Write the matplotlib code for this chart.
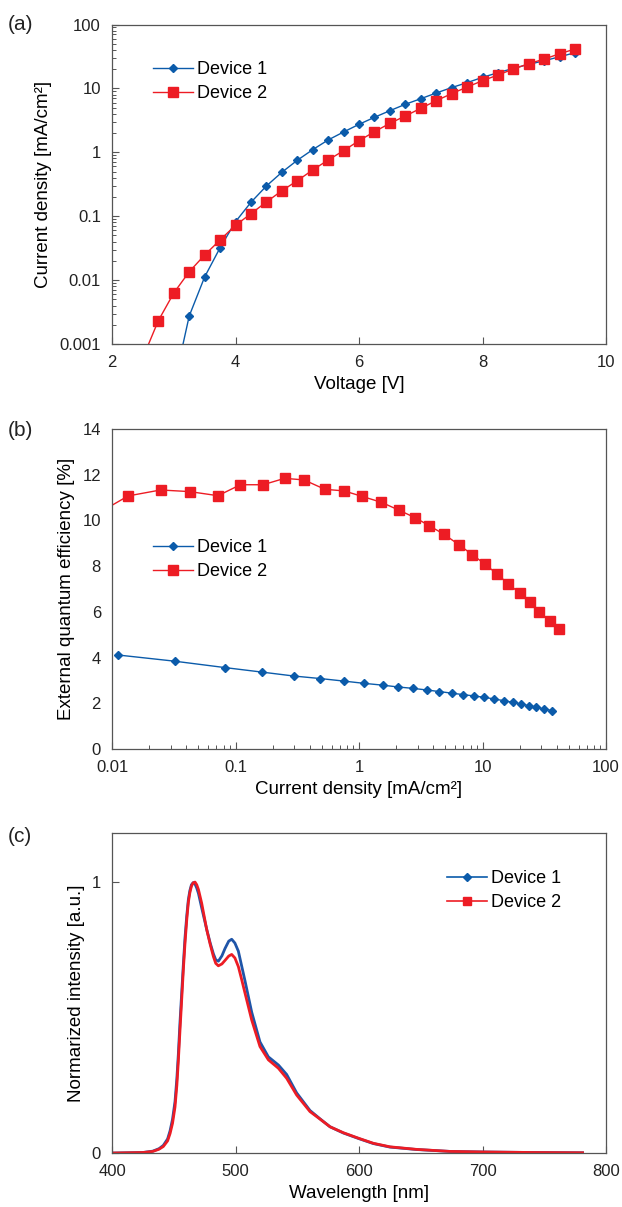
"""Three-panel OLED device comparison: J-V, EQE-J and EL spectra."""
import matplotlib
matplotlib.use("Agg")
import matplotlib.pyplot as plt
from matplotlib.lines import Line2D
from matplotlib.ticker import LogLocator, FuncFormatter, NullLocator, FixedLocator

plt.rcParams["font.family"] = ["Liberation Sans", "DejaVu Sans"]

BLUE = "#0B5BAA"
RED = "#ED1C24"
SPINE = "#555555"

# (a) current density vs voltage
volt1 = [3.0, 3.25, 3.5, 3.75, 4.0, 4.25, 4.5, 4.75, 5.0, 5.25, 5.5, 5.75, 6.0, 6.25,
         6.5, 6.75, 7.0, 7.25, 7.5, 7.75, 8.0, 8.25, 8.5, 8.75, 9.0, 9.25, 9.5]
j1 = [0.00022, 0.00274, 0.0112, 0.0321, 0.082, 0.165, 0.297, 0.486, 0.75, 1.10, 1.56,
      2.08, 2.74, 3.53, 4.48, 5.64, 6.90, 8.47, 10.3, 12.3, 14.9, 17.6, 20.6, 23.8,
      27.1, 31.3, 36.2]
volt2 = [2.5, 2.75, 3.0, 3.25, 3.5, 3.75, 4.0, 4.25, 4.5, 4.75, 5.0, 5.25, 5.5, 5.75,
         6.0, 6.25, 6.5, 6.75, 7.0, 7.25, 7.5, 7.75, 8.0, 8.25, 8.5, 8.75, 9.0, 9.25, 9.5]
j2 = [0.00061, 0.00232, 0.00628, 0.0135, 0.0247, 0.0425, 0.0721, 0.1095, 0.167, 0.250,
      0.359, 0.529, 0.757, 1.06, 1.52, 2.10, 2.84, 3.70, 4.88, 6.42, 8.27, 10.5, 13.2,
      16.2, 20.1, 24.4, 28.8, 34.9, 41.4]

# (b) EQE vs current density (same operating points, from 3.5 V / 3.0 V upward)
eqe1 = [4.11, 3.84, 3.56, 3.36, 3.19, 3.08, 2.97, 2.87, 2.79, 2.71, 2.65, 2.58, 2.51,
        2.44, 2.38, 2.32, 2.26, 2.19, 2.11, 2.04, 1.97, 1.89, 1.82, 1.76, 1.68]
eqe2 = [10.03, 11.07, 11.33, 11.26, 11.08, 11.56, 11.56, 11.84, 11.77, 11.36, 11.29,
        11.05, 10.79, 10.45, 10.12, 9.77, 9.39, 8.94, 8.50, 8.08, 7.64, 7.22, 6.81,
        6.42, 6.01, 5.61, 5.24]
j_eqe1 = j1[2:]
j_eqe2 = j2[2:]

# (c) normalized EL spectra
wl = [400, 425, 433, 438, 441.5, 445, 447, 449, 451, 452.5, 453.7, 455, 456.4, 457.8,
      459.1, 460.5, 461.8, 463, 464.3, 465.7, 467.2, 468.6, 470, 472.6, 476.7, 479.5,
      482.1, 484, 486.1, 489, 491.5, 494.5, 496.9, 499.5, 502.3, 505, 507.7, 513.1,
      519.8, 526.6, 534.7, 541.4, 549.5, 560.3, 568.5, 576.5, 587.3, 600, 611.6, 625,
      646.6, 673.6, 700, 741, 781]
el1 = [0, 0.002, 0.007, 0.016, 0.028, 0.052, 0.082, 0.125, 0.19, 0.275, 0.365, 0.48,
       0.59, 0.70, 0.795, 0.875, 0.935, 0.968, 0.99, 0.998, 0.993, 0.978, 0.958, 0.905,
       0.825, 0.775, 0.735, 0.713, 0.708, 0.728, 0.755, 0.782, 0.789, 0.775, 0.745,
       0.69, 0.635, 0.52, 0.41, 0.355, 0.325, 0.29, 0.222, 0.157, 0.126, 0.097, 0.074,
       0.053, 0.035, 0.022, 0.013, 0.006, 0.004, 0.002, 0.001]
el2 = [0, 0.002, 0.006, 0.014, 0.024, 0.045, 0.072, 0.11, 0.17, 0.25, 0.34, 0.45,
       0.565, 0.68, 0.775, 0.86, 0.925, 0.96, 0.985, 0.997, 1.0, 0.99, 0.972, 0.922,
       0.824, 0.77, 0.725, 0.70, 0.691, 0.698, 0.711, 0.727, 0.733, 0.72, 0.688, 0.64,
       0.59, 0.491, 0.393, 0.344, 0.313, 0.276, 0.214, 0.153, 0.125, 0.097, 0.075,
       0.054, 0.036, 0.023, 0.0135, 0.006, 0.004, 0.002, 0.001]

labels = ["Device 1", "Device 2"]


def style_axes(ax):
    for s in ax.spines.values():
        s.set_color(SPINE)
        s.set_linewidth(0.9)
    ax.tick_params(which="both", direction="in", color=SPINE, labelsize=12,
                   labelcolor="#222222", top=False, right=False, pad=8)
    ax.tick_params(which="major", length=5, width=0.8)
    ax.tick_params(which="minor", length=3, width=0.7)


def add_legend(ax, x, y, handles):
    ax.legend(handles=handles, labels=labels, loc="upper left", bbox_to_anchor=(x, y),
              frameon=False, fontsize=13, borderpad=0, borderaxespad=0,
              handlelength=2.2, handletextpad=0.25, labelspacing=0.4)


fmt = FuncFormatter(lambda v, p: f"{v:g}")

fig = plt.figure(figsize=(6.22, 12.07), dpi=100)
ax_a = fig.add_axes([0.1801, 0.7150, 0.7942, 0.2647])
ax_b = fig.add_axes([0.1801, 0.3795, 0.7942, 0.2651])
ax_c = fig.add_axes([0.1801, 0.0447, 0.7942, 0.2649])

# --- (a) ---
ax_a.plot(volt1, j1, color=BLUE, lw=1.0, marker="D", ms=4.2, label=labels[0])
ax_a.plot(volt2, j2, color=RED, lw=1.0, marker="s", ms=6.8, label=labels[1])
ax_a.set_yscale("log")
ax_a.set_xlim(2, 10)
ax_a.set_ylim(0.001, 100)
ax_a.set_xticks([2, 4, 6, 8, 10])
ax_a.xaxis.set_minor_locator(NullLocator())
ax_a.yaxis.set_major_locator(LogLocator(base=10))
ax_a.yaxis.set_minor_locator(LogLocator(base=10, subs=range(2, 10)))
ax_a.yaxis.set_major_formatter(fmt)
ax_a.set_xlabel("Voltage [V]", fontsize=13.5, labelpad=4)
ax_a.set_ylabel("Current density [mA/cm²]", fontsize=13.5, labelpad=5)
style_axes(ax_a)
add_legend(ax_a, 0.083, 0.886, ax_a.get_lines())

# --- (b) ---
ax_b.plot(j_eqe1, eqe1, color=BLUE, lw=1.0, marker="D", ms=4.2)
ax_b.plot(j_eqe2, eqe2, color=RED, lw=1.0, marker="s", ms=6.8)
ax_b.set_xscale("log")
ax_b.set_xlim(0.01, 100)
ax_b.set_ylim(0, 14)
ax_b.set_yticks(range(0, 15, 2))
ax_b.xaxis.set_major_locator(LogLocator(base=10))
ax_b.xaxis.set_minor_locator(LogLocator(base=10, subs=range(2, 10)))
ax_b.xaxis.set_major_formatter(fmt)
ax_b.set_xlabel("Current density [mA/cm²]", fontsize=13.5, labelpad=4)
ax_b.set_ylabel("External quantum efficiency [%]", fontsize=13.5, labelpad=5)
style_axes(ax_b)
ax_b.tick_params(axis="y", which="both", length=0)
add_legend(ax_b, 0.083, 0.656, ax_b.get_lines())

# --- (c) ---
ax_c.plot(wl, el1, color="#1F55A8", lw=2.0)
ax_c.plot(wl, el2, color=RED, lw=2.0)
ax_c.set_xlim(400, 800)
ax_c.set_ylim(0, 1.18)
ax_c.set_xticks([400, 500, 600, 700, 800])
ax_c.yaxis.set_major_locator(FixedLocator([0, 1]))
ax_c.set_xlabel("Wavelength [nm]", fontsize=13.5, labelpad=4)
ax_c.set_ylabel("Normarized intensity [a.u.]", fontsize=13.5, labelpad=5)
style_axes(ax_c)
proxies = [Line2D([], [], color=BLUE, lw=1.2, marker="D", ms=3.6),
           Line2D([], [], color=RED, lw=1.2, marker="s", ms=6.0)]
add_legend(ax_c, 0.678, 0.885, proxies)

for tag, ypix in [("(a)", 25), ("(b)", 431), ("(c)", 836)]:
    fig.text(8 / 622, 1 - ypix / 1207, tag, fontsize=15, ha="left", va="center",
             color="#222222")

fig.savefig("out.png", dpi=100)
